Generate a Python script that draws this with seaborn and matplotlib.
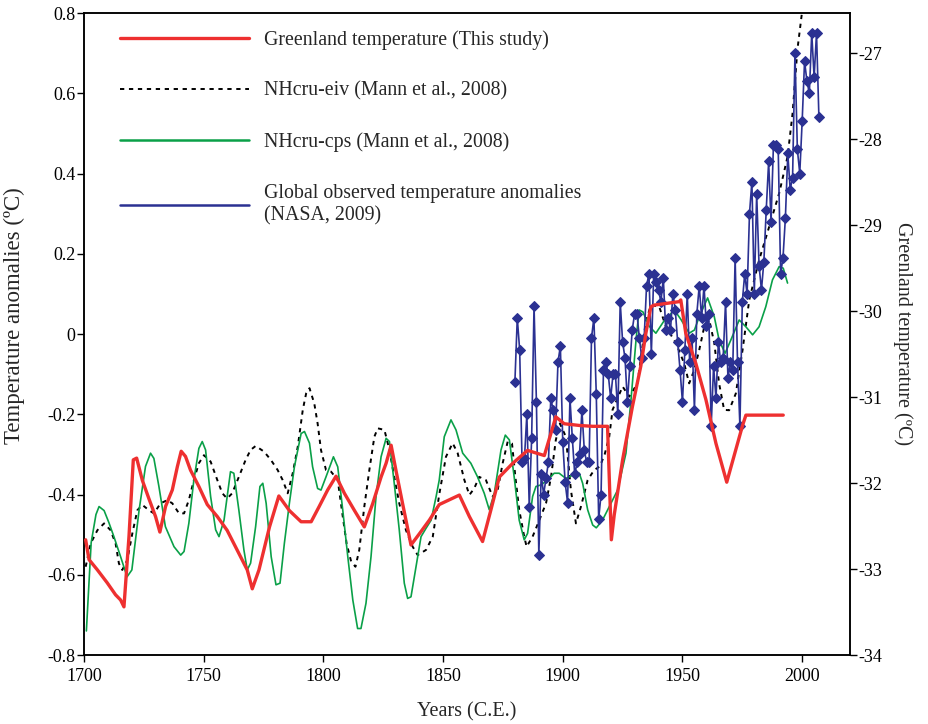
import matplotlib
matplotlib.use('Agg')
import matplotlib.pyplot as plt
from matplotlib.lines import Line2D
import seaborn as sns

# Greenland temperature (this study), degC on the right axis
greenland_years = [1700.7, 1702.1, 1705.6, 1709.7, 1713.2, 1715.3, 1716.7, 1718.8, 1720.6, 1722,
                   1724.4, 1727.1, 1729.9, 1731.7, 1734.1, 1736.9, 1739, 1740.6, 1742.4, 1744.5,
                   1748, 1751.5, 1755.7, 1759.8, 1764, 1768.2, 1770.3, 1773.1, 1777.5, 1781.4,
                   1785.8, 1790.7, 1794.9, 1798.3, 1801.8, 1805.3, 1808.8, 1813, 1817.1, 1820.6,
                   1824.1, 1826.2, 1828.3, 1830.3, 1833.1, 1836.6, 1840.1, 1844.3, 1848.4, 1856.8,
                   1861, 1866.5, 1870, 1873.5, 1879.1, 1885.3, 1892.3, 1897.1, 1900.6, 1906.9,
                   1912.5, 1918.7, 1920.3, 1921.5, 1925, 1929.1, 1932.6, 1934.7, 1936.8, 1938.2,
                   1948.6, 1949.3, 1951.4, 1955.6, 1959.8, 1964, 1968.5, 1975.1, 1976.5, 1992.1]
greenland_temp = [-32.66, -32.89, -33.01, -33.16, -33.30, -33.36, -33.44, -32.62, -31.73, -31.71,
                  -31.97, -32.18, -32.39, -32.57, -32.27, -32.08, -31.81, -31.63, -31.69, -31.85,
                  -32.04, -32.25, -32.39, -32.55, -32.78, -33.01, -33.23, -33.01, -32.51, -32.15,
                  -32.32, -32.45, -32.45, -32.27, -32.08, -31.92, -32.12, -32.32, -32.51, -32.24,
                  -31.93, -31.77, -31.56, -31.85, -32.24, -32.72, -32.59, -32.43, -32.25, -32.14,
                  -32.39, -32.68, -32.31, -31.93, -31.77, -31.62, -31.68, -31.23, -31.31, -31.33,
                  -31.34, -31.34, -32.66, -32.37, -31.73, -31.11, -30.64, -30.26, -29.95, -29.93,
                  -29.89, -29.87, -30.26, -30.61, -31.03, -31.54, -31.99, -31.33, -31.21, -31.21]

# NHcru-eiv (Mann et al., 2008)
eiv_years = [1700.7, 1702.8, 1705.6, 1708.4, 1711.1, 1713.2, 1714.6, 1716, 1718.1, 1720.2,
             1722.3, 1724.4, 1727.1, 1729.2, 1732, 1734.8, 1736.9, 1739.7, 1741.8, 1743.8,
             1745.9, 1748, 1750.1, 1752.9, 1755.7, 1757.8, 1759.8, 1761.9, 1764.7, 1767.5,
             1769.6, 1771.7, 1775.2, 1778.1, 1780.9, 1783, 1785.1, 1787.2, 1789.3, 1791.4,
             1792.8, 1794.2, 1796.2, 1797.6, 1799, 1801.1, 1803.2, 1806, 1808.1, 1809.7,
             1811.6, 1813.4, 1815, 1817.1, 1819.2, 1821.3, 1822.7, 1825.5, 1827.6, 1829.6,
             1831.7, 1834.5, 1837.3, 1839.4, 1842.9, 1845.7, 1848.4, 1851.2, 1854, 1856.1,
             1858.9, 1861, 1863, 1865.1, 1867.9, 1870.7, 1872.8, 1874.9, 1877, 1878.8,
             1880.2, 1881.8, 1883.9, 1884.9, 1887.4, 1890.2, 1893, 1895.1, 1897.1, 1898.8,
             1901.3, 1903.4, 1905.5, 1907.6, 1910.4, 1913.1, 1915.5, 1917.5, 1919.4, 1920.8,
             1925, 1927.8, 1931.2, 1934.7, 1936.8, 1940.3, 1943.1, 1947.3, 1950.7, 1952.8,
             1954.9, 1957, 1959.1, 1961.2, 1963.3, 1965.3, 1967.4, 1969.5, 1972.3, 1975.1,
             1977.9, 1982, 1986.2, 1990.4, 1993.9, 1996, 1998, 1999.9, 2001.5]
eiv_values = [-0.58, -0.522, -0.489, -0.472, -0.489, -0.522, -0.572, -0.588, -0.563, -0.497,
              -0.439, -0.426, -0.439, -0.447, -0.422, -0.414, -0.422, -0.447, -0.447, -0.414,
              -0.364, -0.322, -0.302, -0.318, -0.364, -0.397, -0.41, -0.397, -0.356, -0.314,
              -0.289, -0.279, -0.293, -0.314, -0.339, -0.364, -0.397, -0.347, -0.281, -0.189,
              -0.148, -0.135, -0.173, -0.223, -0.289, -0.339, -0.343, -0.364, -0.455, -0.522,
              -0.567, -0.58, -0.538, -0.43, -0.339, -0.256, -0.235, -0.239, -0.289, -0.356,
              -0.422, -0.489, -0.53, -0.551, -0.538, -0.505, -0.4, -0.306, -0.272, -0.297,
              -0.364, -0.401, -0.385, -0.356, -0.364, -0.405, -0.389, -0.322, -0.268, -0.273,
              -0.356, -0.438, -0.505, -0.53, -0.505, -0.464, -0.422, -0.356, -0.264, -0.223,
              -0.256, -0.389, -0.472, -0.43, -0.364, -0.339, -0.33, -0.30, -0.256, -0.189,
              -0.131, -0.156, -0.123, 0.031, 0.072, 0.068, 0.018, -0.023, -0.073, -0.123,
              -0.09, -0.04, 0.018, 0.035, -0.023, -0.123, -0.189, -0.19, -0.148, -0.04,
              0.085, 0.184, 0.267, 0.351, 0.442, 0.55, 0.708, 0.8, 0.9]

# NHcru-cps (Mann et al., 2008)
cps_years = [1701, 1703, 1705, 1706.3, 1708.4, 1710.4, 1712.5, 1715.3, 1718, 1720,
             1723, 1725.7, 1727.8, 1729.2, 1731.3, 1734, 1737.6, 1740.4, 1741.8, 1743.8,
             1745.9, 1748, 1749.4, 1750.8, 1752.9, 1755, 1756.4, 1758.5, 1761.2, 1762.6,
             1764.7, 1766.8, 1768.2, 1769.6, 1771.7, 1773.5, 1774.7, 1776.1, 1778.2, 1780.2,
             1781.9, 1783.7, 1785.8, 1787.9, 1790.7, 1792.1, 1794.2, 1795.5, 1797.6, 1799,
             1801.1, 1804.2, 1806, 1808.1, 1810.2, 1812.3, 1814.3, 1815.7, 1817.8, 1819.9,
             1822, 1824.1, 1826.2, 1827.6, 1829.6, 1831.7, 1833.8, 1835.2, 1836.6, 1838.7,
             1840.8, 1842.9, 1845, 1847.1, 1848.4, 1850.5, 1853.3, 1855.4, 1858.2, 1861.6,
             1864.4, 1867.2, 1869.3, 1871.4, 1874.2, 1876, 1877.7, 1879.7, 1881.8, 1883.9,
             1885.3, 1887.4, 1888.8, 1890.9, 1893.7, 1896.4, 1898.5, 1901.3, 1904.1, 1906.9,
             1908.3, 1910.4, 1912.5, 1914, 1916.5, 1918.7, 1922.9, 1926.4, 1928.5, 1930.6,
             1931.9, 1933.5, 1936, 1938.9, 1942, 1946.6, 1949.5, 1952.8, 1955, 1957,
             1960.5, 1963.3, 1965.3, 1967.8, 1970.2, 1973.7, 1976.5, 1979.3, 1982, 1984.8,
             1987.6, 1990.4, 1992.1, 1993.9]
cps_values = [-0.74, -0.52, -0.45, -0.43, -0.44, -0.47, -0.505, -0.555, -0.605, -0.588,
              -0.44, -0.33, -0.297, -0.31, -0.38, -0.48, -0.53, -0.551, -0.542, -0.472,
              -0.364, -0.285, -0.268, -0.289, -0.405, -0.488, -0.505, -0.464, -0.343, -0.347,
              -0.439, -0.538, -0.588, -0.571, -0.48, -0.38, -0.372, -0.422, -0.555, -0.625,
              -0.621, -0.522, -0.422, -0.331, -0.248, -0.243, -0.272, -0.331, -0.385, -0.389,
              -0.356, -0.306, -0.331, -0.439, -0.555, -0.663, -0.734, -0.734, -0.671, -0.555,
              -0.405, -0.306, -0.26, -0.268, -0.372, -0.488, -0.621, -0.659, -0.655, -0.58,
              -0.505, -0.484, -0.464, -0.405, -0.364, -0.256, -0.214, -0.239, -0.297, -0.322,
              -0.356, -0.397, -0.438, -0.397, -0.289, -0.252, -0.264, -0.356, -0.464, -0.513,
              -0.497, -0.405, -0.38, -0.376, -0.364, -0.347, -0.347, -0.36, -0.352, -0.347,
              -0.372, -0.438, -0.476, -0.483, -0.465, -0.439, -0.389, -0.297, -0.164, -0.015,
              0.06, 0.055, 0.02, 0.002, 0.03, 0.06, 0.035, 0.002, 0.01, 0.043,
              0.09, 0.043, -0.015, -0.048, -0.015, 0.035, 0.018, -0.002, 0.018, 0.068,
              0.135, 0.168, 0.164, 0.127]

# Global observed temperature anomalies (NASA, 2009), 1880-2007
nasa_years = list(range(1880, 2008))
nasa_values = [-0.12, 0.04, -0.04, -0.32, -0.31, -0.20, -0.43, -0.26, 0.07, -0.17,
               -0.55, -0.35, -0.40, -0.36, -0.32, -0.16, -0.19, -0.24, -0.07, -0.03,
               -0.27, -0.37, -0.42, -0.16, -0.26, -0.35, -0.32, -0.30, -0.19, -0.29,
               -0.32, -0.32, -0.01, 0.04, -0.15, -0.46, -0.40, -0.09, -0.07, -0.10,
               -0.16, -0.10, -0.10, -0.20, 0.08, -0.02, -0.06, -0.17, -0.08, 0.01,
               0.05, 0.05, -0.01, -0.06, -0.01, 0.12, 0.15, -0.05, 0.15, 0.13,
               0.11, 0.08, 0.14, 0.01, 0.04, 0.01, 0.10, 0.06, -0.02, -0.09,
               -0.17, -0.04, 0.10, -0.07, -0.01, -0.19, 0.05, 0.12, 0.04, 0.12,
               0.02, 0.05, -0.23, -0.08, -0.16, -0.02, -0.07, -0.06, 0.08, -0.11,
               -0.07, -0.09, 0.19, -0.07, -0.23, 0.08, 0.15, 0.10, 0.30, 0.38,
               0.10, 0.35, 0.17, 0.11, 0.18, 0.31, 0.43, 0.28, 0.47, 0.47,
               0.46, 0.15, 0.19, 0.29, 0.45, 0.36, 0.39, 0.70, 0.46, 0.40,
               0.53, 0.68, 0.63, 0.60, 0.75, 0.64, 0.75, 0.54]

year_ticks = [1700, 1750, 1800, 1850, 1900, 1950, 2000]
left_ticks = [-0.8, -0.6, -0.4, -0.2, 0, 0.2, 0.4, 0.6, 0.8]
left_labels = ['-0.8', '-0.6', '-0.4', '-0.2', '0', '0.2', '0.4', '0.6', '0.8']
right_ticks = [-34, -33, -32, -31, -30, -29, -28, -27]

sns.set_style('ticks')
plt.rcParams['font.family'] = ['Liberation Serif', 'DejaVu Serif']
plt.rcParams['axes.unicode_minus'] = False
plt.rcParams['xtick.direction'] = 'out'
plt.rcParams['ytick.direction'] = 'out'

red = '#ee3030'
green = '#0aa048'
navy = '#2b3192'

fig = plt.figure(figsize=(9.29, 7.24), dpi=100)
ax = fig.add_axes([0.0904, 0.0953, 0.8246, 0.8867])

sns.lineplot(x=eiv_years, y=eiv_values, ax=ax, color='black', linewidth=1.4,
             linestyle=(0, (2.2, 2.4)), zorder=2)
sns.lineplot(x=cps_years, y=cps_values, ax=ax, color=green, linewidth=1.2, zorder=3)
sns.lineplot(x=nasa_years, y=nasa_values, ax=ax, color=navy, linewidth=1.2,
             marker='D', markersize=5, markeredgecolor=navy, markerfacecolor=navy, zorder=4)

ax.set_xlim(1700, 2020)
ax.set_ylim(-0.8, 0.8)
ax.set_xticks(year_ticks)
ax.set_yticks(left_ticks)
ax.set_yticklabels(left_labels)
ax.tick_params(labelsize=13, length=5, width=1, colors='black')
ax.tick_params(axis='y', pad=1)
ax.tick_params(axis='x', pad=4)
ax.set_xlabel('Years (C.E.)', fontsize=14.5, labelpad=13)
ax.set_ylabel('Temperature anomalies (ºC)', fontsize=16.5)
ax.yaxis.set_label_coords(-0.077, 0.528)
for sp in ax.spines.values():
    sp.set_linewidth(1.1)
    sp.set_color('black')

ax2 = ax.twinx()
sns.lineplot(x=greenland_years, y=greenland_temp, ax=ax2, color=red, linewidth=2.4, zorder=5)
ax2.set_ylim(-34, -26.533)
ax2.set_yticks(right_ticks)
ax2.tick_params(labelsize=13, length=5, width=1, pad=1, colors='black')
ax2.set_ylabel('Greenland temperature (ºC)', fontsize=14.5, rotation=270, labelpad=22)
for sp in ax2.spines.values():
    sp.set_linewidth(1.1)
    sp.set_color('black')

# legend built from proxies so the NASA entry shows a plain line
handles = [Line2D([], [], color=red, linewidth=2.4),
           Line2D([], [], color='black', linewidth=1.4, linestyle=(0, (2.2, 2.4))),
           Line2D([], [], color=green, linewidth=1.8),
           Line2D([], [], color=navy, linewidth=1.8)]
labels = ['Greenland temperature (This study)',
          'NHcru-eiv (Mann et al., 2008)',
          'NHcru-cps (Mann et al., 2008)',
          'Global observed temperature anomalies\n(NASA, 2009)']
ax2.legend(handles, labels, loc='upper left', bbox_to_anchor=(0.025, 1.0), frameon=False,
           fontsize=14.3, handlelength=6.5, handletextpad=0.75, labelspacing=1.6,
           borderaxespad=0.45)

fig.savefig('out.png', dpi=100)
